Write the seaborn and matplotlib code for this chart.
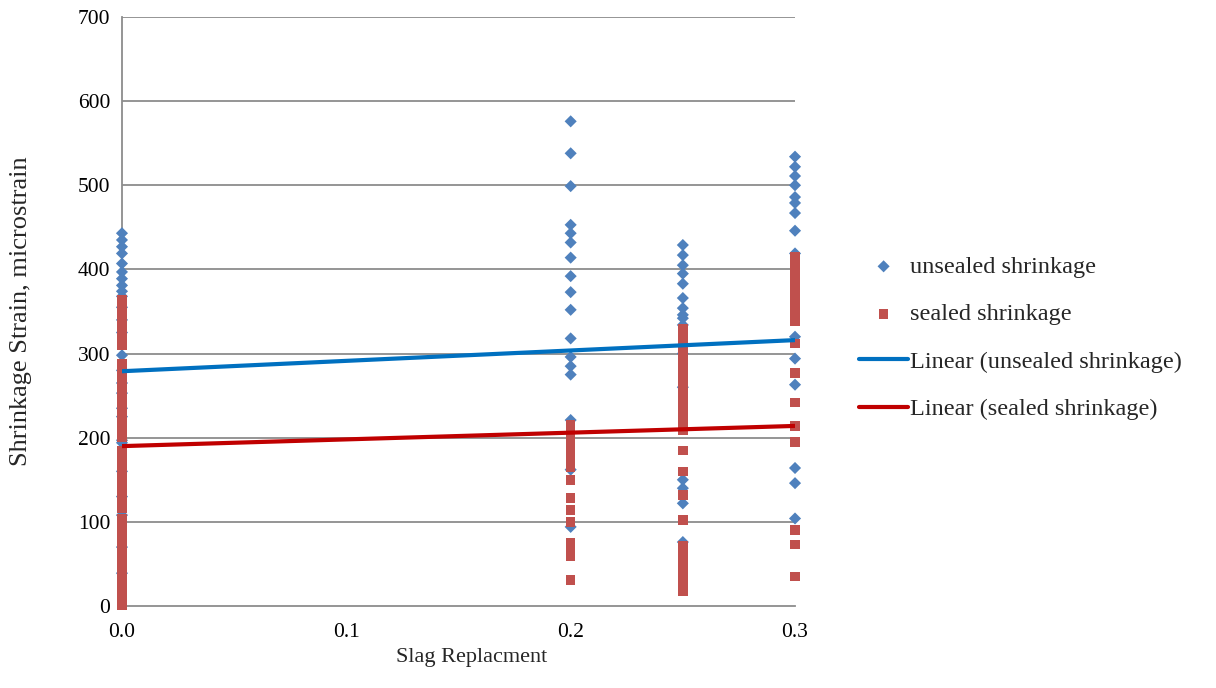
import numpy as np
import pandas as pd
import matplotlib
matplotlib.use("Agg")
import matplotlib.pyplot as plt
import seaborn as sns

# ---- data ----
unsealed_x00 = [443, 435, 427, 419, 407, 397, 389, 381, 374, 368, 355, 340, 325,
                298, 280, 265, 253, 235, 225, 197, 194, 160, 130, 108, 70, 39]
sealed_x00 = [364, 360, 356, 352, 348, 344, 340, 336, 332, 328, 324, 320, 318, 310,
              288, 284, 280, 276, 272, 268, 264, 260, 257, 245, 239, 231, 227,
              221, 217, 213, 209, 205, 201, 185, 181, 177, 173, 169, 165, 161, 157,
              153, 149, 145, 141, 137, 133, 129, 125, 121, 116,
              104, 100, 96, 92, 88, 84, 80, 76, 72, 68, 64, 60, 56, 52, 48, 44, 39,
              35, 31, 27, 23, 19, 15, 11, 7, 3, 1]
unsealed_x02 = [576, 538, 499, 453, 443, 432, 414, 392, 373, 352, 318, 296, 285, 275,
                221, 162, 94]
sealed_x02 = [215, 211, 207, 203, 199, 195, 191, 187, 183, 179, 175, 170, 165,
              150, 128, 114, 100, 75, 67, 59, 31]
unsealed_x025 = [429, 417, 405, 395, 383, 366, 354, 346, 342, 334, 300, 260,
                 150, 140, 122, 76]
sealed_x025 = [330, 325, 320, 316, 311, 306, 301, 296, 291, 286, 281, 276, 271,
               266, 261, 256, 251, 246, 241, 236, 231, 226, 221, 216, 212, 209,
               185, 160, 132, 102,
               72, 68, 64, 60, 56, 52, 48, 44, 40, 36, 32, 28, 24, 20, 17]
unsealed_x03 = [534, 522, 511, 500, 486, 479, 467, 446, 419, 320, 294, 263,
                164, 146, 104]
sealed_x03 = [415, 411, 407, 403, 399, 395, 391, 387, 383, 379, 375, 371, 367, 363,
              360, 356, 350, 344, 338, 312, 277, 242, 214, 195, 90, 73, 35]

trend_x = [0.0, 0.3]
unsealed_trend = [279, 316]
sealed_trend = [190, 214]

x_ticks = [0.0, 0.1, 0.2, 0.3]
x_tick_labels = ["0.0", "0.1", "0.2", "0.3"]
y_ticks = [0, 100, 200, 300, 400, 500, 600, 700]

# ---- build frames ----
def frame(xv, vals):
    return pd.DataFrame({"x": [xv] * len(vals), "y": vals})

df_u = pd.concat([frame(0.0, unsealed_x00), frame(0.2, unsealed_x02),
                  frame(0.25, unsealed_x025), frame(0.3, unsealed_x03)])
df_s = pd.concat([frame(0.0, sealed_x00), frame(0.2, sealed_x02),
                  frame(0.25, sealed_x025), frame(0.3, sealed_x03)])
df_tu = pd.DataFrame({"x": trend_x, "y": unsealed_trend})
df_ts = pd.DataFrame({"x": trend_x, "y": sealed_trend})

sns.set_theme(style="white")
plt.rcParams["font.family"] = ["Liberation Serif", "DejaVu Serif"]

fig = plt.figure(figsize=(12.16, 6.88), dpi=100)
ax = fig.add_axes([0.1003, 0.1192, 0.5535, 0.8561])

sns.scatterplot(data=df_u, x="x", y="y", ax=ax, marker="D", s=38,
                color="#4F81BD", edgecolor="none", label="unsealed shrinkage",
                zorder=3)
sns.scatterplot(data=df_s, x="x", y="y", ax=ax, marker="s", s=48,
                color="#C0504D", edgecolor="none", label="sealed shrinkage",
                zorder=4)
sns.lineplot(data=df_tu, x="x", y="y", ax=ax, color="#0070C0", linewidth=3,
             label="Linear (unsealed shrinkage)", zorder=5)
sns.lineplot(data=df_ts, x="x", y="y", ax=ax, color="#C00000", linewidth=3,
             label="Linear (sealed shrinkage)", zorder=5)
for coll in ax.collections:
    coll.set_clip_on(False)

ax.set_xlim(0, 0.3)
ax.set_ylim(0, 700)
ax.set_xticks(x_ticks)
ax.set_xticklabels(x_tick_labels)
ax.set_yticks(y_ticks)
for v in y_ticks[1:]:
    ax.axhline(v, color="#8C8C8C", linewidth=1.3, zorder=1)

for side in ["top", "right"]:
    ax.spines[side].set_visible(False)
for side in ["left", "bottom"]:
    ax.spines[side].set_color("#8C8C8C")
    ax.spines[side].set_linewidth(1.3)
    ax.spines[side].set_zorder(2)
ax.tick_params(axis="both", which="both", direction="out", length=5,
               color="#8C8C8C", width=1.3, labelsize=15.5, colors="black")
ax.tick_params(axis="x", pad=7)
ax.set_xlabel("Slag Replacment", fontsize=16)
ax.xaxis.set_label_coords(0.52, -0.072)
ax.set_ylabel("Shrinkage Strain, microstrain", fontsize=19)
ax.yaxis.set_label_coords(-0.133, 0.5)
for lbl in ax.get_xticklabels() + ax.get_yticklabels():
    lbl.set_color("black")

leg = ax.legend(loc="center left", bbox_to_anchor=(1.063, 0.455), frameon=False,
                fontsize=17.5, labelspacing=1.05, handlelength=2.0,
                handletextpad=0.1)

fig.savefig("out.png", dpi=100)
